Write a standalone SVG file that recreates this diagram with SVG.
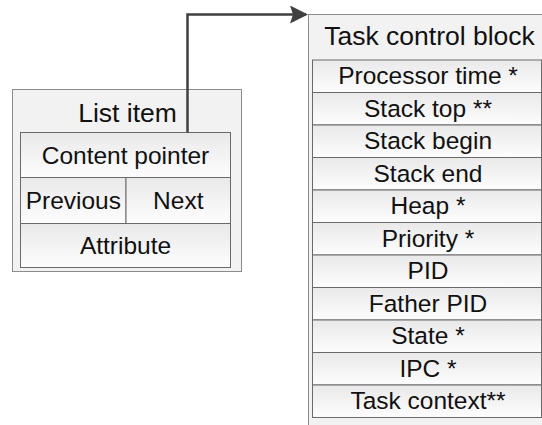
<svg xmlns="http://www.w3.org/2000/svg" width="542" height="425" viewBox="0 0 542 425">
  <defs>
    <linearGradient id="rowGrad" x1="0" y1="0" x2="0" y2="1">
      <stop offset="0" stop-color="#e9e9e9"/>
      <stop offset="1" stop-color="#fdfdfd"/>
    </linearGradient>
    <marker id="arrow" markerUnits="userSpaceOnUse" markerWidth="20" markerHeight="20" refX="16" refY="9" orient="auto" viewBox="0 0 20 20">
      <path d="M0 0 L18 9 L0 18 L3 9 Z" fill="#404040"/>
    </marker>
    <style>
      .outer { fill: #f2f2f2; stroke: #8c8c8c; stroke-width: 1; }
      .row { fill: url(#rowGrad); stroke: #6a6a6a; stroke-width: 1; }
      .title { font-family: "Liberation Sans", Arial, sans-serif; font-size: 26.5px; fill: #111; text-anchor: middle; }
      .lbl { font-family: "Liberation Sans", Arial, sans-serif; font-size: 24.5px; fill: #111; text-anchor: middle; }
      .conn { fill: none; stroke: #404040; stroke-width: 2.5; }
    </style>
  </defs>

  <g id="list-item">
    <rect class="outer" x="12.5" y="89.5" width="229" height="182"/>
    <text class="title" x="127.5" y="121.5">List item</text>
    <rect class="row" x="20.5" y="132.5" width="210" height="45"/>
    <text class="lbl" x="125.5" y="163.5">Content pointer</text>
    <rect class="row" x="20.5" y="177.5" width="105.5" height="46"/>
    <text class="lbl" x="73.3" y="208.5">Previous</text>
    <rect class="row" x="126" y="177.5" width="104.5" height="46"/>
    <text class="lbl" x="178.3" y="208.5">Next</text>
    <rect class="row" x="20.5" y="223.5" width="210" height="44"/>
    <text class="lbl" x="125.5" y="253.5">Attribute</text>
  </g>

  <g id="task-control-block">
    <rect class="outer" x="308.5" y="14.5" width="260" height="420"/>
    <text class="title" x="429.5" y="45">Task control block</text>
    <rect class="row" x="312.5" y="60" width="229" height="32.5"/>
    <text class="lbl" x="428" y="84.25">Processor time *</text>
    <rect class="row" x="312.5" y="92.5" width="229" height="32.5"/>
    <text class="lbl" x="428" y="116.75">Stack top **</text>
    <rect class="row" x="312.5" y="125" width="229" height="32.5"/>
    <text class="lbl" x="428" y="149.25">Stack begin</text>
    <rect class="row" x="312.5" y="157.5" width="229" height="32.5"/>
    <text class="lbl" x="428" y="181.75">Stack end</text>
    <rect class="row" x="312.5" y="190" width="229" height="32.5"/>
    <text class="lbl" x="428" y="214.25">Heap *</text>
    <rect class="row" x="312.5" y="222.5" width="229" height="32.5"/>
    <text class="lbl" x="428" y="246.75">Priority *</text>
    <rect class="row" x="312.5" y="255" width="229" height="32.5"/>
    <text class="lbl" x="428" y="279.25">PID</text>
    <rect class="row" x="312.5" y="287.5" width="229" height="32.5"/>
    <text class="lbl" x="428" y="311.75">Father PID</text>
    <rect class="row" x="312.5" y="320" width="229" height="32.5"/>
    <text class="lbl" x="428" y="344.25">State *</text>
    <rect class="row" x="312.5" y="352.5" width="229" height="32.5"/>
    <text class="lbl" x="428" y="376.75">IPC *</text>
    <rect class="row" x="312.5" y="385" width="229" height="32.5"/>
    <text class="lbl" x="428" y="409.25">Task context**</text>
  </g>

  <g id="connectors">
    <path class="conn" d="M187.5 132.5 V14.5 H306" marker-end="url(#arrow)"/>
  </g>
</svg>
